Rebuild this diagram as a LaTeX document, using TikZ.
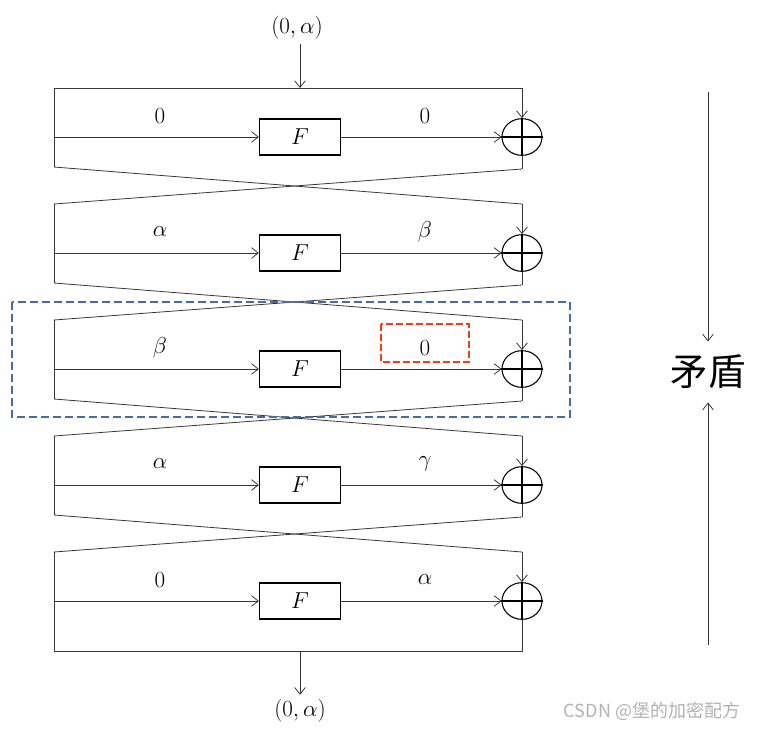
\documentclass[tikz,border=0pt]{standalone}
\usepackage{fontspec}
\newfontfamily\cjk{Noto Sans CJK SC}
\usetikzlibrary{arrows.meta,shapes.geometric}
\definecolor{wire}{RGB}{55,55,55}
\definecolor{roundblue}{RGB}{66,112,158}
\definecolor{hitred}{RGB}{245,60,20}
\tikzset{
  >={Straight Barb[length=5pt,width=8pt]},
  wire/.style={draw=wire, line width=0.6pt},
  fbox/.style={draw=black, line width=0.8pt, minimum width=61pt, minimum height=27pt, inner sep=0pt},
  xorop/.style={ellipse, draw=black, line width=0.8pt, minimum width=30pt, minimum height=27.5pt, inner sep=0pt},
  lbl/.style={font=\fontsize{19}{21}\selectfont}
}
\begin{document}
\begin{tikzpicture}[x=0.75pt, y=-0.75pt]
\useasboundingbox (0,0) rectangle (764,729);

% five rounds
\foreach \i/\l/\r in {1/0/0, 2/\alpha/\beta, 3/\beta/0, 4/\alpha/\gamma, 5/0/\alpha} {
  \pgfmathsetmacro\y{137+116*(\i-1)}
  \node[fbox, lbl] (F\i) at (300,\y) {$F$};
  \node[xorop] (x\i) at (522,\y) {};
  \draw[line width=0.8pt] (x\i.north) -- (x\i.south) (x\i.west) -- (x\i.east);
  \coordinate (lt\i) at (54,\y-49);
  \coordinate (lm\i) at (54,\y);
  \coordinate (lb\i) at (54,\y+30);
  \coordinate (rt\i) at (522,\y-49);
  \coordinate (rb\i) at (522,\y+32);
  \draw[wire] (lt\i) -- (lb\i);
  \draw[wire,->] (lm\i) -- (F\i);
  \draw[wire,->] (F\i) -- (x\i);
  \draw[wire,->] (rt\i) -- (x\i);
  \draw[wire] (x\i) -- (rb\i);
  \node[lbl] (a\i) at (160,\y-21) {$\l$};
  \node[lbl] (b\i) at (425,\y-21) {$\r$};
}

% swaps between rounds
\foreach \i [evaluate=\i as \j using int(\i+1)] in {1,...,4} {
  \draw[wire] (lb\i) -- (rt\j);
  \draw[wire] (rb\i) -- (lt\j);
}

% input and output
\draw[wire] (lt1) -- (rt1);
\coordinate (bl) at (54,651);
\coordinate (br) at (522,651);
\draw[wire] (lb5) -- (bl) -- (br) -- (rb5);
\node[lbl] (in) at (297,28) {$(0,\alpha)$};
\coordinate (inend) at (300,88);
\draw[wire,->] (in.south -| inend) -- (inend);
\coordinate (outstart) at (300,651);
\node[lbl] (out) at (300,711) {$(0,\alpha)$};
\draw[wire,->] (outstart) -- (outstart |- out.north);

% highlighted round
\draw[roundblue, line width=2.2pt, dash pattern=on 6pt off 3pt] (12,302) rectangle (570,417);
\draw[hitred, line width=1.6pt, dash pattern=on 5pt off 2.5pt] (381,324) rectangle (469,362);

% contradiction
\node[font=\cjk\fontsize{28}{30}\selectfont, inner sep=10pt] (md) at (708,372) {矛盾};
\coordinate (mtop) at (708,92);
\coordinate (mbot) at (708,645);
\draw[wire,->] (mtop) -- (md.north);
\draw[wire,->] (mbot) -- (md.south);

% watermark
\node[font=\cjk\fontsize{13.5}{15}\selectfont, text=black!30] (wm) at (652,711) {CSDN @堡的加密配方};
\end{tikzpicture}
\end{document}
